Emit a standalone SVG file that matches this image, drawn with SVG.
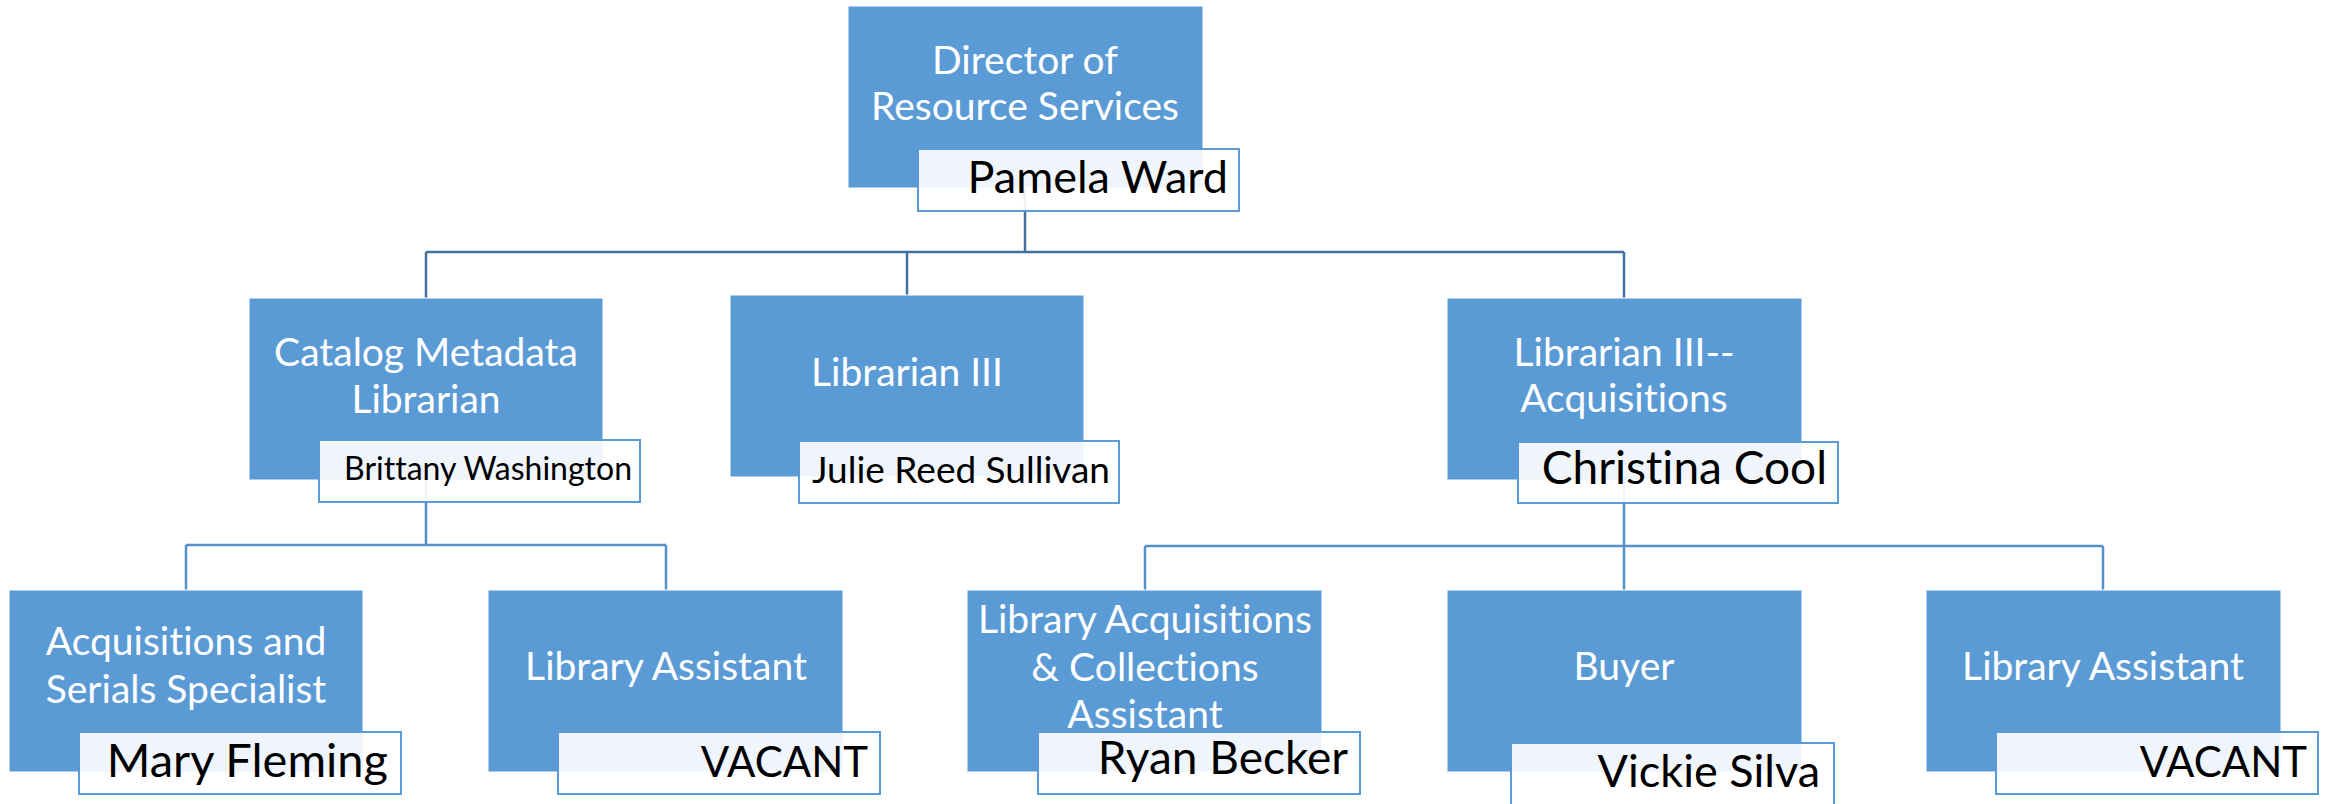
<svg xmlns="http://www.w3.org/2000/svg" width="2328" height="804" viewBox="0 0 2328 804">
<style>
.box{fill:#5B9BD5;stroke:#FFFFFF;stroke-width:1}
.nm{fill:#FFFFFF;fill-opacity:0.9;stroke:#5B9BD5;stroke-width:2}
.t{font-family:Lato,"Open Sans",sans-serif;font-size:39px;fill:#FFFFFF;text-anchor:middle;font-variant-ligatures:none}
.n{font-family:Lato,"Open Sans",sans-serif;fill:#000000;text-anchor:end;font-variant-ligatures:none}
.c1{fill:none;stroke:#41719C;stroke-width:2.5}
.c2{fill:none;stroke:#5590CC;stroke-width:2.5}
</style>
<rect width="2328" height="804" fill="#FFFFFF"/>
<g id="connectors">
<path class="c1" d="M1025,188 V252 M426,252 H1624 M426,252 V298 M907,252 V295 M1624,252 V298"/>
<path class="c2" d="M426,480 V545 M186,545 H666 M186,545 V590 M666,545 V590"/>
<path class="c2" d="M1624,480 V546 M1145,546 H2103 M1145,546 V590 M1624,546 V590 M2103,546 V590"/>
</g>
<g id="director">
<rect class="box" x="848" y="6" width="355" height="182"/>
<text class="t" x="1025" y="74">Director of</text>
<text class="t" x="1025" y="120">Resource Services</text>
<rect class="nm" x="918" y="149" width="321" height="62"/>
<text class="n" x="1228" y="193" font-size="45">Pamela Ward</text>
</g>
<g id="catalog">
<rect class="box" x="249" y="298" width="354" height="182"/>
<text class="t" x="426" y="366">Catalog Metadata</text>
<text class="t" x="426" y="413">Librarian</text>
<rect class="nm" x="319" y="440" width="321" height="62"/>
<text class="n" x="632" y="480" font-size="32">Brittany Washington</text>
</g>
<g id="librarian3">
<rect class="box" x="730" y="295" width="354" height="182"/>
<text class="t" x="907" y="386">Librarian III</text>
<rect class="nm" x="799" y="441" width="320" height="62"/>
<text class="n" x="1110" y="483" font-size="37">Julie Reed Sullivan</text>
</g>
<g id="librarian3acq">
<rect class="box" x="1447" y="298" width="355" height="182"/>
<text class="t" x="1624" y="366">Librarian III--</text>
<text class="t" x="1624" y="412">Acquisitions</text>
<rect class="nm" x="1518" y="442" width="320" height="61"/>
<text class="n" x="1827" y="484" font-size="46">Christina Cool</text>
</g>
<g id="acqserials">
<rect class="box" x="9" y="590" width="354" height="182"/>
<text class="t" x="186" y="655">Acquisitions and</text>
<text class="t" x="186" y="703">Serials Specialist</text>
<rect class="nm" x="79" y="732" width="322" height="62"/>
<text class="n" x="388" y="777" font-size="47">Mary Fleming</text>
</g>
<g id="libassistant1">
<rect class="box" x="488" y="590" width="355" height="182"/>
<text class="t" x="666" y="680">Library Assistant</text>
<rect class="nm" x="558" y="732" width="322" height="62"/>
<text class="n" x="868" y="777" font-size="42">VACANT</text>
</g>
<g id="libacqcoll">
<rect class="box" x="967" y="590" width="355" height="182"/>
<text class="t" x="1145" y="633">Library Acquisitions</text>
<text class="t" x="1145" y="681">&amp; Collections</text>
<text class="t" x="1145" y="728">Assistant</text>
<rect class="nm" x="1038" y="732" width="322" height="62"/>
<text class="n" x="1348" y="774" font-size="46">Ryan Becker</text>
</g>
<g id="buyer">
<rect class="box" x="1447" y="590" width="355" height="182"/>
<text class="t" x="1624" y="680">Buyer</text>
<rect class="nm" x="1511" y="743" width="323" height="64"/>
<text class="n" x="1820" y="787" font-size="45">Vickie Silva</text>
</g>
<g id="libassistant2">
<rect class="box" x="1926" y="590" width="355" height="182"/>
<text class="t" x="2103" y="680">Library Assistant</text>
<rect class="nm" x="1996" y="732" width="322" height="62"/>
<text class="n" x="2307" y="777" font-size="42">VACANT</text>
</g>
</svg>
